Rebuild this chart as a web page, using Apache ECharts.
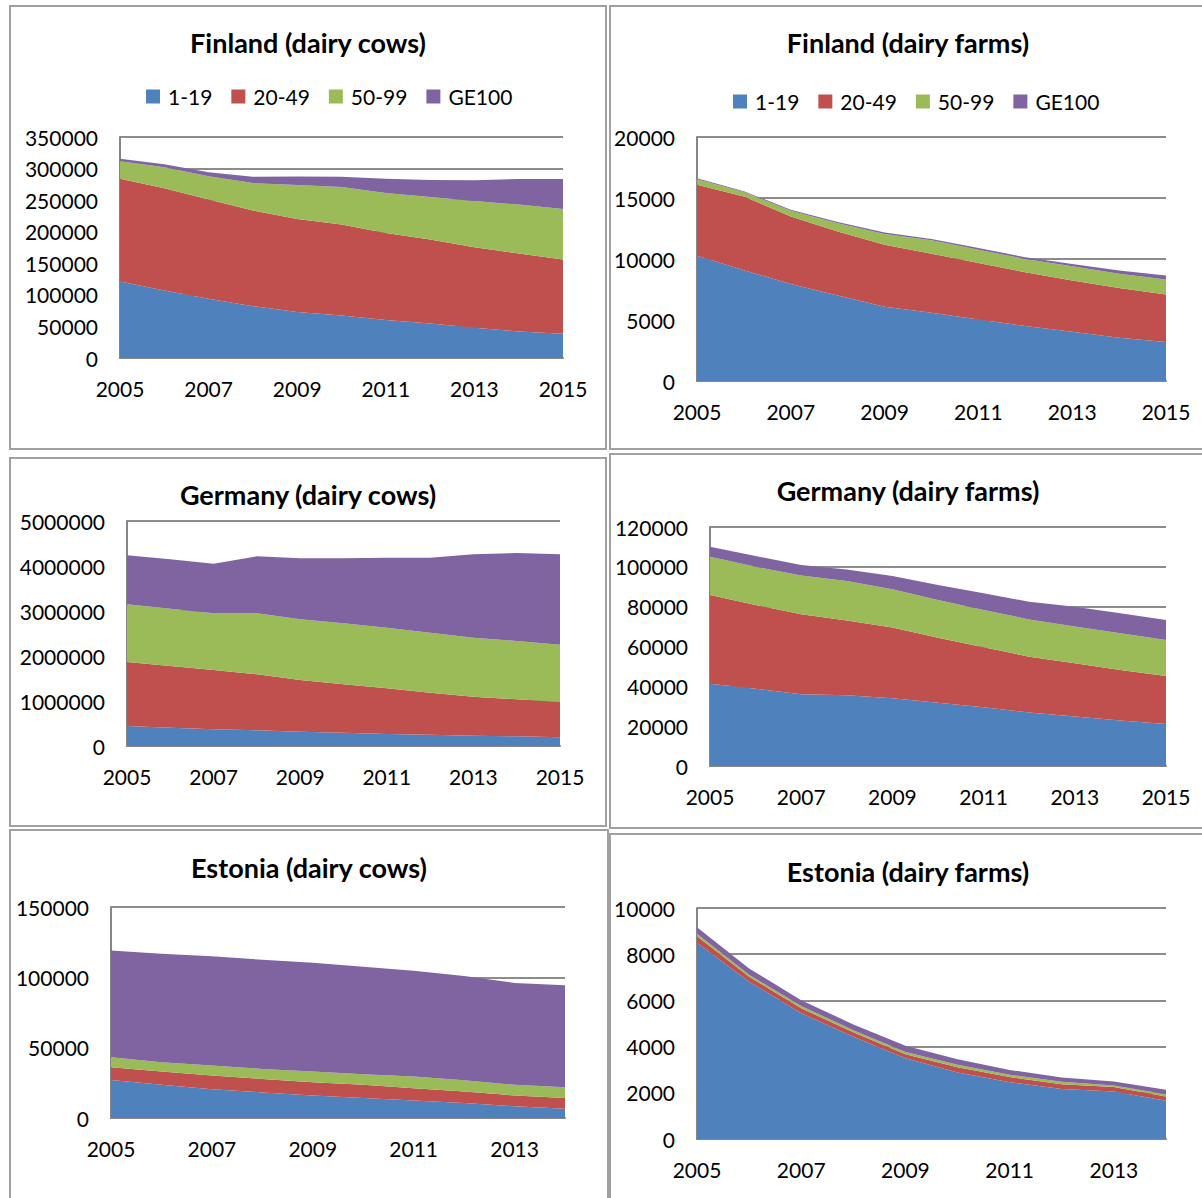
<!DOCTYPE html>
<html>
<head>
<meta charset="utf-8">
<script src="https://cdn.jsdelivr.net/npm/echarts@6/dist/echarts.min.js"></script>
<style>
html,body{margin:0;padding:0;background:#fff;}
#chart{width:1202px;height:1198px;}
</style>
</head>
<body>
<div id="chart"></div>
<script>
// ---- categories ----
var years11 = ['2005','2006','2007','2008','2009','2010','2011','2012','2013','2014','2015'];
var years10 = ['2005','2006','2007','2008','2009','2010','2011','2012','2013','2014'];
var seriesNames = ['1-19','20-49','50-99','GE100'];

// ---- Finland (dairy cows) ----
var finCows_1_19  = [121000,107000,94000,82000,73000,67500,60000,54500,48000,42000,38500];
var finCows_20_49 = [163000,162000,157000,151500,147000,144000,138000,133000,127500,123500,117500];
var finCows_50_99 = [27500,33000,37000,43500,54000,59500,63500,67500,73000,77500,80000];
var finCows_GE100 = [4000,5000,6000,10000,13500,16000,22500,27000,33000,40500,47500];

// ---- Finland (dairy farms) ----
var finFarms_1_19  = [10270,9070,7960,7000,6080,5590,5040,4500,4030,3540,3190];
var finFarms_20_49 = [5810,6050,5530,5260,5090,4850,4630,4410,4200,4090,3890];
var finFarms_50_99 = [460,380,460,680,870,1090,1090,1090,1170,1170,1230];
var finFarms_GE100 = [80,60,80,90,140,110,140,140,190,250,330];

// ---- Germany (dairy cows) ----
var gerCows_1_19  = [444000,407000,370000,348000,318000,296000,267000,252000,230000,215000,193000];
var gerCows_20_49 = [1423000,1371000,1319000,1245000,1149000,1074000,1014000,933000,866000,822000,785000];
var gerCows_50_99 = [1281000,1274000,1259000,1355000,1348000,1356000,1349000,1334000,1311000,1296000,1274000];
var gerCows_GE100 = [1089000,1096000,1104000,1267000,1355000,1444000,1555000,1666000,1852000,1956000,2007000];

// ---- Germany (dairy farms) ----
var gerFarms_1_19  = [41300,38800,36000,35500,34000,31800,29500,26800,24800,22800,21100];
var gerFarms_20_49 = [44600,42000,40200,37500,35500,32600,30100,28100,26800,25400,24100];
var gerFarms_50_99 = [19200,19300,19400,19900,19200,19000,18700,18700,18400,18400,18100];
var gerFarms_GE100 = [5000,5300,5300,5800,6700,7500,8400,8900,10000,10100,10000];

// ---- Estonia (dairy cows) ----
var estCows_1_19  = [27100,23600,20500,18200,16000,14200,12500,10600,8300,6600];
var estCows_20_49 = [9000,9400,9700,9600,9500,9400,8700,8300,7700,7600];
var estCows_50_99 = [7100,6600,7100,7100,7500,7500,8300,8000,7600,7700];
var estCows_GE100 = [75900,77100,77600,77600,77400,76500,75200,74000,72400,72400];

// ---- Estonia (dairy farms) ----
var estFarms_1_19  = [8500,6810,5440,4430,3500,2880,2460,2160,2060,1660];
var estFarms_20_49 = [280,210,220,190,170,230,220,210,190,180];
var estFarms_50_99 = [110,90,100,90,100,100,100,110,70,100];
var estFarms_GE100 = [280,270,250,250,270,240,210,180,170,190];

// ---- axis scales (max, interval) ----
var yMax  = [350000, 20000, 5000000, 120000, 150000, 10000];
var yStep = [50000, 5000, 1000000, 20000, 50000, 2000];

var titles = ['Finland (dairy cows)','Finland (dairy farms)','Germany (dairy cows)','Germany (dairy farms)','Estonia (dairy cows)','Estonia (dairy farms)'];

var colors = ['#4F81BD','#C0504D','#9BBB59','#8064A2'];

var panelData = [
  {cats: years11, vals: [finCows_1_19, finCows_20_49, finCows_50_99, finCows_GE100]},
  {cats: years11, vals: [finFarms_1_19, finFarms_20_49, finFarms_50_99, finFarms_GE100]},
  {cats: years11, vals: [gerCows_1_19, gerCows_20_49, gerCows_50_99, gerCows_GE100]},
  {cats: years11, vals: [gerFarms_1_19, gerFarms_20_49, gerFarms_50_99, gerFarms_GE100]},
  {cats: years10, vals: [estCows_1_19, estCows_20_49, estCows_50_99, estCows_GE100]},
  {cats: years10, vals: [estFarms_1_19, estFarms_20_49, estFarms_50_99, estFarms_GE100]}
];

// ---- layout (pixels) ----
var plots = [
  {l:120, r:563, t:137, b:358},
  {l:697, r:1166, t:137, b:381},
  {l:127, r:560, t:521, b:746},
  {l:710, r:1166, t:527, b:766},
  {l:111, r:565, t:907, b:1118},
  {l:697, r:1166, t:908, b:1139}
];
var titlePos = [[308,44],[908,44],[308,496],[908,492],[309,869],[908,873]];
var borders = [
  {x:10, y:6, w:596, h:443},
  {x:610, y:6, w:600, h:443},
  {x:10, y:458, w:596, h:368},
  {x:610, y:454, w:600, h:374},
  {x:10, y:830, w:598, h:380},
  {x:610, y:834, w:600, h:380}
];

var FONT = 'Lato, "Open Sans", sans-serif';

var option = {
  backgroundColor: '#ffffff',
  animation: false,
  color: colors,
  title: [],
  legend: [],
  grid: [],
  xAxis: [],
  yAxis: [],
  series: [],
  graphic: []
};

borders.forEach(function(b){
  option.graphic.push({
    type: 'rect', z: -10, silent: true,
    shape: {x: b.x, y: b.y, width: b.w, height: b.h},
    style: {fill: 'none', stroke: '#A0A0A0', lineWidth: 2}
  });
});

for (var i = 0; i < 6; i++) {
  var p = plots[i];
  option.title.push({
    text: titles[i],
    left: titlePos[i][0], top: titlePos[i][1] - 15, textAlign: 'center',
    padding: 0,
    textStyle: {fontFamily: FONT, fontSize: 27, fontWeight: 'bold', color: '#000'}
  });
  option.grid.push({left: p.l, top: p.t, width: p.r - p.l, height: p.b - p.t, containLabel: false});
  option.xAxis.push({
    type: 'category', gridIndex: i, data: panelData[i].cats, boundaryGap: false,
    axisLine: {show: true, lineStyle: {color: '#868686', width: 2}},
    axisTick: {show: false},
    axisLabel: {interval: 1, margin: 20, color: '#000', fontFamily: FONT, fontSize: 21}
  });
  option.yAxis.push({
    type: 'value', gridIndex: i, min: 0, max: yMax[i], interval: yStep[i],
    axisLine: {show: true, lineStyle: {color: '#868686', width: 2}},
    axisTick: {show: false},
    splitLine: {show: true, lineStyle: {color: '#8C8C8C', width: 2}},
    axisLabel: {margin: 22, color: '#000', fontFamily: FONT, fontSize: 21,
      formatter: function (v) { return String(v); }}
  });
  for (var s = 0; s < 4; s++) {
    option.series.push({
      name: seriesNames[s], type: 'line', xAxisIndex: i, yAxisIndex: i,
      stack: 'p' + i, data: panelData[i].vals[s],
      symbol: 'none', showSymbol: false,
      lineStyle: {width: 0},
      areaStyle: {color: colors[s], opacity: 1},
      itemStyle: {color: colors[s]},
      z: 2
    });
  }
}

var legendCommon = {
  data: seriesNames, orient: 'horizontal', itemWidth: 14, itemHeight: 14, itemGap: 19,
  icon: 'rect', padding: 0,
  textStyle: {fontFamily: FONT, fontSize: 21, color: '#000', padding: [0, 0, 0, 3]}
};
option.legend.push(Object.assign({}, legendCommon, {left: 146, top: 86}));
option.legend.push(Object.assign({}, legendCommon, {left: 733, top: 91}));

var chart = echarts.init(document.getElementById('chart'), null, {renderer: 'svg'});
chart.setOption(option);
</script>
</body>
</html>
